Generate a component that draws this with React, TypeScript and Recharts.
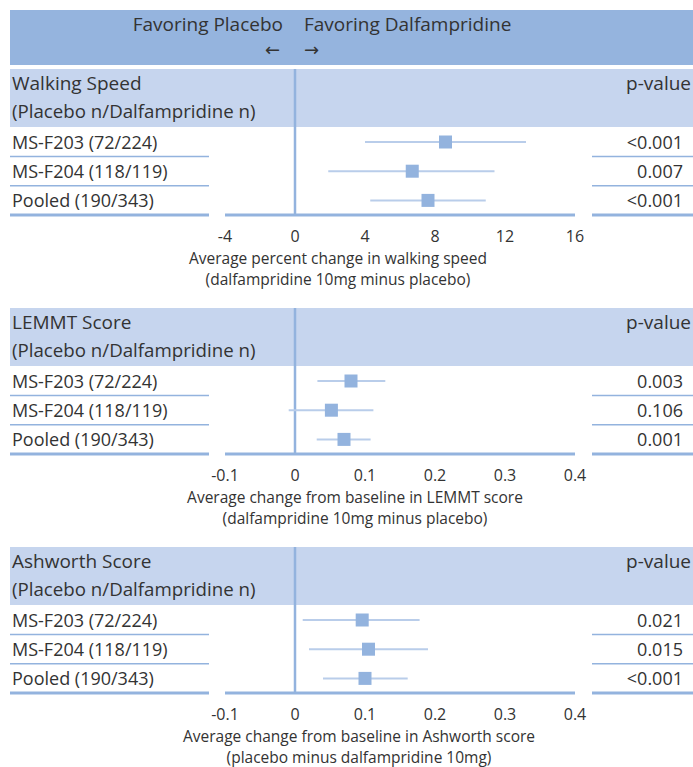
import React from "react";
import {
  ScatterChart,
  Scatter,
  XAxis,
  YAxis,
  ErrorBar,
  ReferenceLine,
} from "recharts";

// ---------- data ----------
const rowLabels = ["MS-F203 (72/224)", "MS-F204 (118/119)", "Pooled (190/343)"];

const walkMean = [8.6, 6.7, 7.6];
const walkLow = [4.0, 1.9, 4.3];
const walkHigh = [13.2, 11.4, 10.9];
const walkP = ["<0.001", "0.007", "<0.001"];
const walkTicks = [-4, 0, 4, 8, 12, 16];

const lemmtMean = [0.08, 0.052, 0.07];
const lemmtLow = [0.032, -0.009, 0.031];
const lemmtHigh = [0.129, 0.112, 0.108];
const lemmtP = ["0.003", "0.106", "0.001"];

const ashMean = [0.096, 0.105, 0.1];
const ashLow = [0.011, 0.02, 0.04];
const ashHigh = [0.178, 0.19, 0.161];
const ashP = ["0.021", "0.015", "<0.001"];

const scoreTicks = [-0.1, 0, 0.1, 0.2, 0.3, 0.4];

const headerLeft = "Favoring Placebo";
const headerRight = "Favoring Dalfampridine";

// ---------- styles ----------
const FONT = "'Open Sans', 'Noto Sans', sans-serif";
const TEXT = "#333333";
const DARK_BAND = "#95b4de";
const LIGHT_BAND = "#c6d5ee";
const LINE = "#93b3de";
const CI = "#b9cdea";
const SQUARE = "#93b3de";

const ROW_HALF = 14.6;

type SectionProps = {
  top: number;
  title: string;
  means: number[];
  lows: number[];
  highs: number[];
  pvals: string[];
  ticks: number[];
  axisTitle1: string;
  axisTitle2: string;
  titleCenter: number;
};

const Square = (props: any) => {
  const { cx, cy } = props;
  if (cx == null || cy == null) return null;
  return <rect x={cx - 6.5} y={cy - 6.5} width={13} height={13} fill={SQUARE} />;
};

const makeRowTick = (pvals: string[]) => (props: any) => {
  const { y, payload, index } = props;
  const ly = y + ROW_HALF;
  const sw = index === 2 ? 3 : 1.5;
  return (
    <g>
      <text
        x={4}
        y={y}
        dominantBaseline="central"
        textAnchor="start"
        fontSize={18}
        fill={TEXT}
        fontFamily={FONT}
      >
        {rowLabels[payload.value] ?? ""}
      </text>
      <line x1={2} x2={201} y1={ly} y2={ly} stroke={LINE} strokeWidth={sw} />
      <text
        x={675}
        y={y}
        dominantBaseline="central"
        textAnchor="end"
        fontSize={18}
        fill={TEXT}
        fontFamily={FONT}
      >
        {pvals[payload.value] ?? ""}
      </text>
      <line x1={584} x2={685} y1={ly} y2={ly} stroke={LINE} strokeWidth={sw} />
    </g>
  );
};

const Section = (p: SectionProps) => {
  const data = p.means.map((m, i) => ({
    x: m,
    y: i,
    err: [m - p.lows[i], p.highs[i] - m],
  }));
  const domain: [number, number] = [p.ticks[0], p.ticks[p.ticks.length - 1]];
  const textBase = {
    position: "absolute" as const,
    color: TEXT,
    whiteSpace: "nowrap" as const,
  };
  return (
    <div style={{ position: "absolute", left: 0, top: p.top, width: 693, height: 240 }}>
      <div
        style={{
          position: "absolute",
          left: 10,
          top: 0,
          width: 683,
          height: 58,
          background: LIGHT_BAND,
        }}
      />
      <div style={{ ...textBase, left: 12, top: 2, lineHeight: "24px", fontSize: 19 }}>
        {p.title}
      </div>
      <div style={{ ...textBase, left: 12, top: 30, lineHeight: "24px", fontSize: 18.7 }}>
        (Placebo n/Dalfampridine n)
      </div>
      <div style={{ ...textBase, right: 2, top: 2, lineHeight: "24px", fontSize: 19 }}>
        p-value
      </div>
      <div style={{ position: "absolute", left: 8, top: 0 }}>
        <ScatterChart
          width={685}
          height={220}
          margin={{ top: 0, right: 118, bottom: 0, left: 0 }}
        >
          <XAxis
            type="number"
            dataKey="x"
            domain={domain}
            ticks={p.ticks}
            allowDataOverflow
            interval={0}
            height={74}
            tickLine={false}
            tickSize={0}
            tickMargin={16}
            axisLine={{ stroke: LINE, strokeWidth: 3 }}
            tick={{ fill: TEXT, fontSize: 16, fontFamily: FONT }}
          />
          <YAxis
            type="number"
            dataKey="y"
            domain={[-2.5, 2.5]}
            ticks={[0, 1, 2]}
            interval={0}
            reversed
            width={217}
            axisLine={false}
            tickLine={false}
            tick={makeRowTick(p.pvals)}
          />
          <ReferenceLine x={0} stroke={LINE} strokeWidth={2.5} />
          <Scatter data={data} isAnimationActive={false} shape={<Square />}>
            <ErrorBar
              dataKey="err"
              direction="x"
              width={0}
              stroke={CI}
              strokeWidth={2}
            />
          </Scatter>
        </ScatterChart>
      </div>
      <div
        style={{
          ...textBase,
          left: p.titleCenter - 250,
          width: 500,
          top: 180,
          textAlign: "center",
          lineHeight: "18px",
          fontSize: 15.5,
        }}
      >
        {p.axisTitle1}
      </div>
      <div
        style={{
          ...textBase,
          left: p.titleCenter - 250,
          width: 500,
          top: 201,
          textAlign: "center",
          lineHeight: "18px",
          fontSize: 15.5,
        }}
      >
        {p.axisTitle2}
      </div>
    </div>
  );
};

export default function App() {
  return (
    <div
      style={{
        position: "relative",
        width: 693,
        height: 767,
        overflow: "hidden",
        background: "#ffffff",
        fontFamily: FONT,
      }}
    >
      <style>{"body{margin:0;}"}</style>
      <div
        style={{
          position: "absolute",
          left: 10,
          top: 10,
          width: 683,
          height: 55,
          background: DARK_BAND,
        }}
      />
      <div
        style={{
          position: "absolute",
          right: 693 - 283,
          top: 11,
          lineHeight: "26px",
          fontSize: 19,
          color: TEXT,
          whiteSpace: "nowrap",
        }}
      >
        {headerLeft}
      </div>
      <div
        style={{
          position: "absolute",
          left: 304,
          top: 11,
          lineHeight: "26px",
          fontSize: 19,
          color: TEXT,
          whiteSpace: "nowrap",
        }}
      >
        {headerRight}
      </div>
      <div
        style={{
          position: "absolute",
          left: 265,
          top: 39,
          lineHeight: "22px",
          fontSize: 18,
          color: TEXT,
          fontFamily: "'DejaVu Sans', sans-serif",
        }}
      >
        ←
      </div>
      <div
        style={{
          position: "absolute",
          left: 304,
          top: 39,
          lineHeight: "22px",
          fontSize: 18,
          color: TEXT,
          fontFamily: "'DejaVu Sans', sans-serif",
        }}
      >
        →
      </div>
      <Section
        top={69}
        title="Walking Speed"
        means={walkMean}
        lows={walkLow}
        highs={walkHigh}
        pvals={walkP}
        ticks={walkTicks}
        axisTitle1="Average percent change in walking speed"
        axisTitle2="(dalfampridine 10mg minus placebo)"
        titleCenter={338}
      />
      <Section
        top={308}
        title="LEMMT Score"
        means={lemmtMean}
        lows={lemmtLow}
        highs={lemmtHigh}
        pvals={lemmtP}
        ticks={scoreTicks}
        axisTitle1="Average change from baseline in LEMMT score"
        axisTitle2="(dalfampridine 10mg minus placebo)"
        titleCenter={355}
      />
      <Section
        top={547}
        title="Ashworth Score"
        means={ashMean}
        lows={ashLow}
        highs={ashHigh}
        pvals={ashP}
        ticks={scoreTicks}
        axisTitle1="Average change from baseline in Ashworth score"
        axisTitle2="(placebo minus dalfampridine 10mg)"
        titleCenter={359}
      />
    </div>
  );
}
